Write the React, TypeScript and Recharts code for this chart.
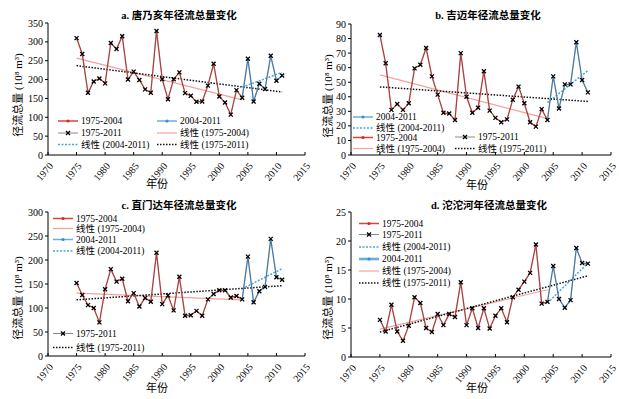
import { LineChart, Line, XAxis, YAxis } from "recharts";

const years = [
  1975, 1976, 1977, 1978, 1979, 1980, 1981, 1982, 1983, 1984, 1985, 1986, 1987,
  1988, 1989, 1990, 1991, 1992, 1993, 1994, 1995, 1996, 1997, 1998, 1999, 2000,
  2001, 2002, 2003, 2004, 2005, 2006, 2007, 2008, 2009, 2010, 2011,
];
const yearTicks = [1970, 1975, 1980, 1985, 1990, 1995, 2000, 2005, 2010, 2015];

// 唐乃亥
const tangnaihaiRunoff = [
  310, 268, 165, 195, 203, 190, 297, 281, 315, 200, 221, 199, 174, 165, 329, 201,
  148, 201, 219, 164, 157, 141, 142, 184, 242, 155, 139, 107, 172, 152, 255, 142,
  189, 175, 263, 197, 211,
];
const tangnaihaiTrendEarly = [257, 146];
const tangnaihaiTrendLate = [180, 219];
const tangnaihaiTrendAll = [237, 167];

// 吉迈
const jimaiRunoff = [
  82.5, 63, 31, 35, 31, 35.5, 59.5, 62, 73.5, 54, 41.5, 29, 28.5, 24, 70, 40, 29,
  32.5, 57.5, 30.5, 25.5, 22.5, 24.5, 38, 47, 35.5, 22.5, 19.5, 31.5, 24, 54, 32,
  48.5, 48.5, 77.5, 51.5, 43,
];
const jimaiTrendEarly = [55, 25];
const jimaiTrendLate = [36, 58];
const jimaiTrendAll = [46.8, 36.8];

// 直门达
const zhimendaRunoff = [
  152, 127, 106, 100, 70, 139, 181, 155, 161, 114, 131, 103, 121, 113, 215, 108,
  126, 95, 165, 84, 85, 94, 84, 118, 129, 137, 137, 122, 125, 118, 207, 112, 135,
  144, 244, 164, 159,
];
const zhimendaTrendEarly = [131, 117];
const zhimendaTrendLate = [140, 182];
const zhimendaTrendAll = [117, 146.5];

// 沱沱河
const tuotuoheRunoff = [
  6.4, 4.4, 9.0, 4.4, 2.8, 5.4, 10.3, 9.3, 5.0, 4.3, 7.4, 5.5, 7.4, 6.9, 12.9, 5.5,
  8.4, 5.0, 8.4, 4.9, 7.1, 8.4, 6.0, 10.3, 11.6, 13.0, 14.5, 19.4, 9.2, 9.5, 15.7,
  10.0, 8.5, 9.8, 18.8, 16.2, 16.1,
];
const tuotuoheTrendEarly = [4.8, 11.6];
const tuotuoheTrendLate = [9.3, 16.2];
const tuotuoheTrendAll = [4.3, 14.0];

const FONT = "'Liberation Serif', 'Times New Roman', 'Noto Sans CJK SC', serif";

function buildTable(values: number[]) {
  return years.map((year, i) => ({
    year,
    all: values[i],
    early: year <= 2004 ? values[i] : null,
    late: year >= 2004 ? values[i] : null,
  }));
}

function trendRows(from: number, to: number, ends: number[]) {
  return [
    { year: from, value: ends[0] },
    { year: to, value: ends[1] },
  ];
}

const XMark = (props: any) => {
  const { cx, cy, value } = props;
  if (cx == null || cy == null || value == null) return null;
  const s = 2;
  return (
    <path
      key={`x-${cx}`}
      d={`M${cx - s},${cy - s}L${cx + s},${cy + s}M${cx - s},${cy + s}L${cx + s},${cy - s}`}
      stroke="#000"
      strokeWidth={1.3}
    />
  );
};

const YearTick = (props: any) => {
  const { x, y, payload } = props;
  return (
    <g>
      <line x1={x} y1={y} x2={x} y2={y - 3} stroke="#000" />
      <text
        x={x + 3}
        y={y + 9}
        transform={`rotate(-50 ${x + 3} ${y + 9})`}
        textAnchor="end"
        dominantBaseline="central"
        fontSize={10}
        fontFamily={FONT}
        fill="#000"
      >
        {payload.value}
      </text>
    </g>
  );
};

type LegendKind = "red" | "blue" | "blueWide" | "gray" | "pink" | "blueDot" | "blackDot";

interface LegendItem {
  label: string;
  kind: LegendKind;
  x: number;
  y: number;
  len?: number;
}

function LegendSample({ kind, x, y, len }: { kind: LegendKind; x: number; y: number; len: number }) {
  const mid = x + len / 2;
  if (kind === "red")
    return (
      <g>
        <line x1={x} y1={y} x2={x + len} y2={y} stroke="#e2413b" strokeWidth={1.5} />
        <circle cx={mid} cy={y} r={1.6} fill="#d42a2a" />
      </g>
    );
  if (kind === "blue" || kind === "blueWide")
    return (
      <g>
        <line x1={x} y1={y} x2={x + len} y2={y} stroke="#6aaedd" strokeWidth={kind === "blueWide" ? 2.6 : 1.5} />
        <circle cx={mid} cy={y} r={1.6} fill="#3d8ccc" />
      </g>
    );
  if (kind === "gray")
    return (
      <g>
        <line x1={x} y1={y} x2={x + len} y2={y} stroke="#8a8a8a" strokeWidth={1} />
        <XMark cx={mid} cy={y} value={1} />
      </g>
    );
  if (kind === "pink")
    return <line x1={x} y1={y} x2={x + len} y2={y} stroke="#f4a19c" strokeWidth={1.2} />;
  if (kind === "blueDot")
    return <line x1={x} y1={y} x2={x + len} y2={y} stroke="#4aa6df" strokeWidth={1.5} strokeDasharray="2 1.5" />;
  return <line x1={x} y1={y} x2={x + len} y2={y} stroke="#111" strokeWidth={1.5} strokeDasharray="1.5 1.5" />;
}

interface PanelProps {
  left: number;
  top: number;
  width: number;
  height: number;
  plotTop: number;
  yAxisWidth: number;
  rightMargin: number;
  xAxisHeight: number;
  title: string;
  titlePos: [number, number];
  yLabelPos: [number, number];
  xLabelPos: [number, number];
  yMax: number;
  yTicks: number[];
  values: number[];
  early: number[];
  late: number[];
  all: number[];
  legend: LegendItem[];
}

function Panel(p: PanelProps) {
  const table = buildTable(p.values);
  return (
    <div style={{ position: "absolute", left: p.left, top: p.top, width: p.width, height: p.height }}>
      <LineChart
        width={p.width}
        height={p.height}
        data={table}
        margin={{ top: p.plotTop, right: p.rightMargin, bottom: 0, left: 0 }}
      >
        <XAxis
          dataKey="year"
          type="number"
          domain={[1970, 2015]}
          ticks={yearTicks}
          interval={0}
          height={p.xAxisHeight}
          tickSize={0}
          tickMargin={0}
          tick={<YearTick />}
          axisLine={{ stroke: "#000" }}
          tickLine={false}
          allowDataOverflow
        />
        <YAxis
          type="number"
          domain={[0, p.yMax]}
          ticks={p.yTicks}
          interval={0}
          width={p.yAxisWidth}
          tickSize={3}
          tickMargin={2}
          tick={{ fontSize: 10, fontFamily: FONT, fill: "#000" }}
          axisLine={{ stroke: "#000" }}
          tickLine={{ stroke: "#000" }}
        />
        <Line
          data={trendRows(1975, 2004, p.early)}
          dataKey="value"
          stroke="#f4a19c"
          strokeWidth={1.2}
          dot={false}
          isAnimationActive={false}
        />
        <Line
          data={trendRows(2004, 2011, p.late)}
          dataKey="value"
          stroke="#4aa6df"
          strokeWidth={1.5}
          strokeDasharray="2 1.5"
          dot={false}
          isAnimationActive={false}
        />
        <Line
          data={trendRows(1975, 2011, p.all)}
          dataKey="value"
          stroke="#111"
          strokeWidth={1.5}
          strokeDasharray="1.5 1.5"
          dot={false}
          isAnimationActive={false}
        />
        <Line
          dataKey="early"
          stroke="#b8403c"
          strokeWidth={1.3}
          dot={false}
          connectNulls={false}
          isAnimationActive={false}
        />
        <Line
          dataKey="late"
          stroke="#4a82ae"
          strokeWidth={1.3}
          dot={false}
          connectNulls={false}
          isAnimationActive={false}
        />
        <Line
          dataKey="all"
          stroke="#555"
          strokeOpacity={0.35}
          strokeWidth={0.6}
          dot={<XMark />}
          isAnimationActive={false}
        />
      </LineChart>
      <svg
        width={p.width}
        height={p.height}
        style={{ position: "absolute", left: 0, top: 0, pointerEvents: "none" }}
        fontFamily={FONT}
      >
        <text x={p.titlePos[0]} y={p.titlePos[1]} textAnchor="middle" dominantBaseline="central" fontSize={10.5} fontWeight="bold">
          {p.title}
        </text>
        <text
          x={p.yLabelPos[0]}
          y={p.yLabelPos[1]}
          transform={`rotate(-90 ${p.yLabelPos[0]} ${p.yLabelPos[1]})`}
          textAnchor="middle"
          dominantBaseline="central"
          fontSize={11}
        >
          径流总量 (10⁸ m³)
        </text>
        <text x={p.xLabelPos[0]} y={p.xLabelPos[1]} textAnchor="middle" dominantBaseline="central" fontSize={11}>
          年份
        </text>
        {p.legend.map((item) => {
          const len = item.len ?? 20;
          return (
            <g key={item.label}>
              <LegendSample kind={item.kind} x={item.x} y={item.y} len={len} />
              <text x={item.x + len + 3} y={item.y} dominantBaseline="central" fontSize={9.5}>
                {item.label}
              </text>
            </g>
          );
        })}
      </svg>
    </div>
  );
}

export default function App() {
  return (
    <div
      style={{
        position: "absolute",
        left: 0,
        top: 0,
        width: 619,
        height: 399,
        background: "#fff",
        overflow: "hidden",
      }}
    >
      <Panel
        left={0}
        top={0}
        width={318}
        height={200}
        plotTop={23}
        yAxisWidth={48}
        rightMargin={13}
        xAxisHeight={45}
        title="a. 唐乃亥年径流总量变化"
        titlePos={[179, 15]}
        yLabelPos={[18, 95]}
        xLabelPos={[157, 184]}
        yMax={350}
        yTicks={[0, 50, 100, 150, 200, 250, 300, 350]}
        values={tangnaihaiRunoff}
        early={tangnaihaiTrendEarly}
        late={tangnaihaiTrendLate}
        all={tangnaihaiTrendAll}
        legend={[
          { label: "1975-2004", kind: "red", x: 58, y: 121 },
          { label: "2004-2011", kind: "blue", x: 157, y: 121 },
          { label: "1975-2011", kind: "gray", x: 58, y: 133 },
          { label: "线性 (1975-2004)", kind: "pink", x: 157, y: 133 },
          { label: "线性 (2004-2011)", kind: "blueDot", x: 58, y: 144.5 },
          { label: "线性 (1975-2011)", kind: "blackDot", x: 157, y: 144.5 },
        ]}
      />
      <Panel
        left={310}
        top={0}
        width={309}
        height={200}
        plotTop={24}
        yAxisWidth={41}
        rightMargin={8}
        xAxisHeight={45}
        title="b. 吉迈年径流总量变化"
        titlePos={[178, 15]}
        yLabelPos={[18, 96]}
        xLabelPos={[167, 185]}
        yMax={90}
        yTicks={[0, 10, 20, 30, 40, 50, 60, 70, 80, 90]}
        values={jimaiRunoff}
        early={jimaiTrendEarly}
        late={jimaiTrendLate}
        all={jimaiTrendAll}
        legend={[
          { label: "2004-2011", kind: "blue", x: 43, y: 117 },
          { label: "线性 (2004-2011)", kind: "blueDot", x: 43, y: 128 },
          { label: "1975-2004", kind: "red", x: 43, y: 137.5 },
          { label: "1975-2011", kind: "gray", x: 145, y: 137 },
          { label: "线性 (1975-2004)", kind: "pink", x: 43, y: 148.5 },
          { label: "线性 (1975-2011)", kind: "blackDot", x: 145, y: 148.5 },
        ]}
      />
      <Panel
        left={0}
        top={195}
        width={318}
        height={204}
        plotTop={17}
        yAxisWidth={48}
        rightMargin={13}
        xAxisHeight={43}
        title="c. 直门达年径流总量变化"
        titlePos={[179, 10]}
        yLabelPos={[18, 103]}
        xLabelPos={[157, 193]}
        yMax={300}
        yTicks={[0, 50, 100, 150, 200, 250, 300]}
        values={zhimendaRunoff}
        early={zhimendaTrendEarly}
        late={zhimendaTrendLate}
        all={zhimendaTrendAll}
        legend={[
          { label: "1975-2004", kind: "red", x: 53, y: 23.5 },
          { label: "线性 (1975-2004)", kind: "pink", x: 53, y: 33.5 },
          { label: "2004-2011", kind: "blue", x: 53, y: 44.5 },
          { label: "线性 (2004-2011)", kind: "blueDot", x: 53, y: 56 },
          { label: "1975-2011", kind: "gray", x: 53, y: 138.5 },
          { label: "线性 (1975-2011)", kind: "blackDot", x: 53, y: 152.5 },
        ]}
      />
      <Panel
        left={310}
        top={195}
        width={309}
        height={204}
        plotTop={17}
        yAxisWidth={41}
        rightMargin={8}
        xAxisHeight={42}
        title="d. 沱沱河年径流总量变化"
        titlePos={[179, 10]}
        yLabelPos={[18, 103]}
        xLabelPos={[167, 193]}
        yMax={25}
        yTicks={[0, 5, 10, 15, 20, 25]}
        values={tuotuoheRunoff}
        early={tuotuoheTrendEarly}
        late={tuotuoheTrendLate}
        all={tuotuoheTrendAll}
        legend={[
          { label: "1975-2004", kind: "red", x: 49, y: 28.5 },
          { label: "1975-2011", kind: "gray", x: 49, y: 39.5 },
          { label: "线性 (2004-2011)", kind: "blueDot", x: 49, y: 52 },
          { label: "2004-2011", kind: "blueWide", x: 49, y: 64 },
          { label: "线性 (1975-2004)", kind: "pink", x: 49, y: 76 },
          { label: "线性 (1975-2011)", kind: "blackDot", x: 49, y: 88 },
        ]}
      />
    </div>
  );
}
